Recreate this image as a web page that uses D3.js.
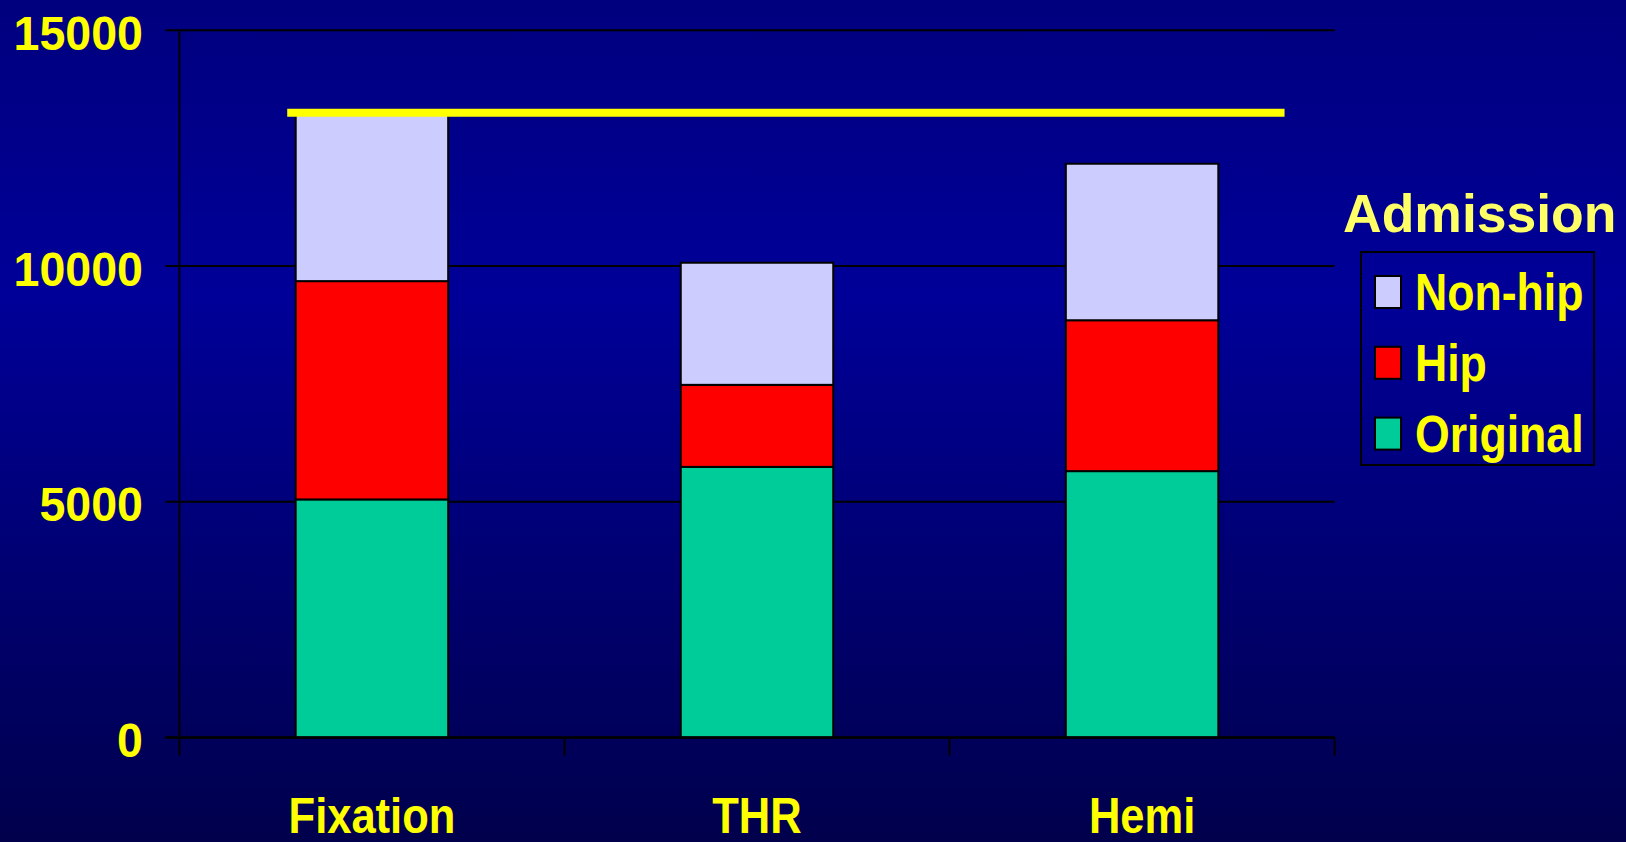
<!DOCTYPE html>
<html>
<head>
<meta charset="utf-8">
<script src="https://cdn.jsdelivr.net/npm/d3@7"></script>
<style>
  html, body { margin: 0; padding: 0; background: #000080; overflow: hidden; }
  svg { display: block; }
  text { font-family: "Liberation Sans", Arial, Helvetica, sans-serif; font-weight: bold; }
</style>
</head>
<body>
<svg id="chart" width="1626" height="842"></svg>
<script>
// ---- data ----
const categories = ["Fixation", "THR", "Hemi"];
const seriesNames = ["Original", "Hip", "Non-hip"];
const original = [5050, 5740, 5650];
const hip = [4630, 1740, 3200];
const nonHip = [3570, 2590, 3320];
const yTicks = [0, 5000, 10000, 15000];
const targetValue = [13250];
const legendTitle = "Admission";

// ---- setup ----
const W = 1626, H = 842;
const svg = d3.select("#chart");
const colors = { "Original": "#00CC99", "Hip": "#FF0000", "Non-hip": "#CCCCFF" };

const defs = svg.append("defs");
const grad = defs.append("linearGradient").attr("id", "bg").attr("x1", 0).attr("y1", 0).attr("x2", 0).attr("y2", 1);
grad.append("stop").attr("offset", "0%").attr("stop-color", "#00007E");
grad.append("stop").attr("offset", "35%").attr("stop-color", "#000098");
grad.append("stop").attr("offset", "100%").attr("stop-color", "#00004C");
svg.append("rect").attr("width", W).attr("height", H).attr("fill", "url(#bg)");

const plot = { left: 179.4, right: 1334.6, top: 30.3, bottom: 737.5 };

const x = d3.scaleBand().domain(categories).range([plot.left, plot.right]).padding(0);
const y = d3.scaleLinear().domain([0, 15000]).range([plot.bottom, plot.top]);
const barFrac = 0.396;

// gridlines
svg.append("g").selectAll("line").data(yTicks).join("line")
  .attr("x1", plot.left - 14).attr("x2", plot.right)
  .attr("y1", d => y(d)).attr("y2", d => y(d))
  .attr("stroke", "#000").attr("stroke-width", 2);

// y axis line
svg.append("line").attr("x1", plot.left).attr("x2", plot.left)
  .attr("y1", plot.top).attr("y2", plot.bottom + 18)
  .attr("stroke", "#000").attr("stroke-width", 2);

// category ticks (between categories)
const edges = categories.map(c => x(c) + x.bandwidth());
svg.append("g").selectAll("line").data(edges).join("line")
  .attr("x1", d => d).attr("x2", d => d)
  .attr("y1", plot.bottom).attr("y2", plot.bottom + 18)
  .attr("stroke", "#000").attr("stroke-width", 2);

// stacked bars
const rows = categories.map((c, i) => ({ cat: c, "Original": original[i], "Hip": hip[i], "Non-hip": nonHip[i] }));
const stack = d3.stack().keys(seriesNames)(rows);
const bw = x.bandwidth() * barFrac;
svg.append("g").selectAll("g").data(stack).join("g")
  .attr("fill", d => colors[d.key])
  .selectAll("rect").data(d => d).join("rect")
  .attr("x", d => x(d.data.cat) + (x.bandwidth() - bw) / 2)
  .attr("width", bw)
  .attr("y", d => y(d[1]))
  .attr("height", d => y(d[0]) - y(d[1]))
  .attr("stroke", "#000").attr("stroke-width", 2);

// x axis line (drawn on top)
svg.append("line").attr("x1", plot.left - 14).attr("x2", plot.right)
  .attr("y1", plot.bottom).attr("y2", plot.bottom)
  .attr("stroke", "#000").attr("stroke-width", 2.5);

// yellow target line
svg.append("g").selectAll("line").data(targetValue).join("line")
  .attr("x1", x(categories[0]) + x.bandwidth() * 0.28)
  .attr("x2", x(categories[categories.length - 1]) + x.bandwidth() * 0.87)
  .attr("y1", d => y(d)).attr("y2", d => y(d))
  .attr("stroke", "#FFFF00").attr("stroke-width", 8);

// compressed text helper
function label(parent, tx, ty, sx, txt, size, anchor, fill) {
  const g = parent.append("g").attr("transform", `translate(${tx},${ty}) scale(${sx},1)`);
  g.append("text").attr("x", 0).attr("y", 0).attr("text-anchor", anchor)
    .attr("font-size", size).attr("fill", fill).text(txt);
  return g;
}

// y tick labels
const yl = svg.append("g");
yTicks.forEach(t => label(yl, 143, y(t) + 19.5, 0.95, String(t), 49, "end", "#FFFF00"));

// category labels
const xl = svg.append("g");
categories.forEach(c => label(xl, x(c) + x.bandwidth() / 2, 833, 0.87, c, 50, "middle", "#FFFF00"));

// legend
const leg = svg.append("g");
leg.append("text").attr("x", 1343).attr("y", 232).attr("font-size", 53.5)
  .attr("fill", "#FFFF66").text(legendTitle);
leg.append("rect").attr("x", 1361).attr("y", 252).attr("width", 233).attr("height", 213)
  .attr("fill", "none").attr("stroke", "#000").attr("stroke-width", 2);
const legendOrder = seriesNames.slice().reverse();
legendOrder.forEach((s, i) => {
  const cy = 292 + i * 70.8;
  leg.append("rect").attr("x", 1375).attr("y", cy - 16).attr("width", 26).attr("height", 32)
    .attr("fill", colors[s]).attr("stroke", "#000").attr("stroke-width", 2);
  label(leg, 1415, cy + 18, 0.875, s, 51, "start", "#FFFF00");
});
</script>
</body>
</html>
